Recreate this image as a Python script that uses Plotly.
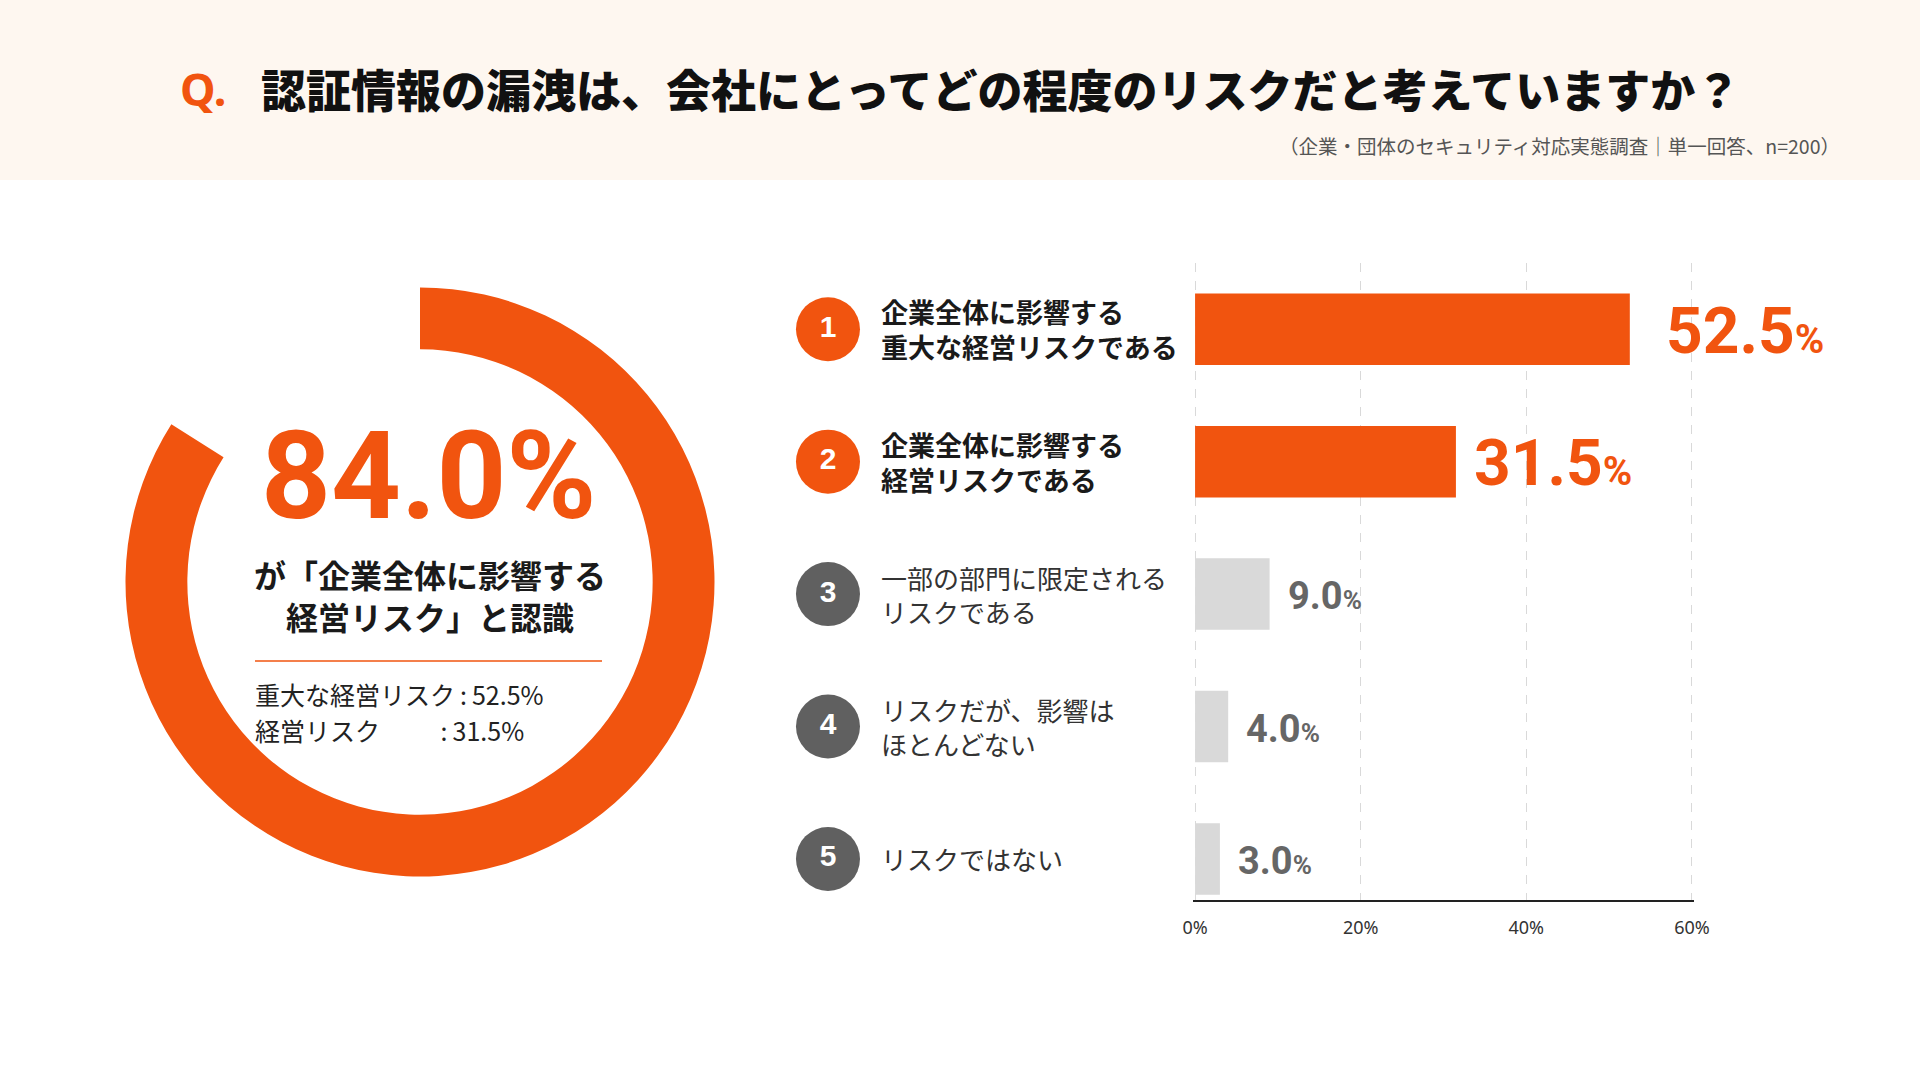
"""
Survey chart: perceived risk of credential leaks (donut summary + ranked bars).
"""
import plotly.graph_objects as go

W, H = 1920, 1080

TITLE = "認証情報の漏洩は、会社にとってどの程度のリスクだと考えていますか？"
SUBTITLE = "（企業・団体のセキュリティ対応実態調査｜単一回答、n=200）"

LABELS = [
    "企業全体に影響する<br>重大な経営リスクである",
    "企業全体に影響する<br>経営リスクである",
    "一部の部門に限定される<br>リスクである",
    "リスクだが、影響は<br>ほとんどない",
    "リスクではない",
]
RANKS = ["1", "2", "3", "4", "5"]
VALUES = [52.5, 31.5, 9.0, 4.0, 3.0]
SUMMARY_NAMES = ["重大な経営リスク", "経営リスク　　 "]
X_TICKS = [0, 20, 40, 60]
X_TICK_LABELS = ["0%", "20%", "40%", "60%"]
N_TOP = 2  # the top answers that make up the headline number

ORANGE = "#F1540F"
GREY_BAR = "#D9D9D9"
GREY_DARK = "#606060"
PEACH = "#FEF7F0"
JP = "Noto Sans CJK JP"
NUM = "Roboto, sans-serif"

# strip the default page margin so the figure sits flush in the window
PAGE_FIX = (
    "document.documentElement.style.margin='0';"
    "document.body.style.margin='0';"
    "document.body.style.padding='0';"
    "document.body.style.overflow='hidden';"
)


def px(x):
    return x / W


def py(y):
    return 1 - y / H


def build_figure():
    top_share = sum(VALUES[:N_TOP])
    highlight = [i < N_TOP for i in range(len(VALUES))]

    fig = go.Figure()

    # donut on the left
    fig.add_trace(go.Pie(
        values=[top_share, 100 - top_share],
        hole=0.79,
        sort=False,
        direction="clockwise",
        rotation=0,
        marker=dict(colors=[ORANGE, "rgba(0,0,0,0)"], line=dict(width=0)),
        textinfo="none",
        hoverinfo="skip",
        automargin=False,
        domain=dict(x=[px(125.5), px(714.5)], y=[py(876.5), py(287.5)]),
        showlegend=False,
    ))

    # ranked bars
    fig.add_trace(go.Bar(
        x=VALUES,
        y=LABELS,
        orientation="h",
        width=0.54,
        marker=dict(color=[ORANGE if h else GREY_BAR for h in highlight], line=dict(width=0)),
        hoverinfo="skip",
        showlegend=False,
    ))

    # numbered circles
    fig.add_trace(go.Scatter(
        x=[0.142] * len(RANKS),
        y=LABELS,
        xaxis="x2",
        yaxis="y",
        mode="markers+text",
        text=RANKS,
        textposition="middle center",
        textfont=dict(family="Liberation Sans, Arial, sans-serif", size=30, color="white", weight="bold"),
        marker=dict(size=64, color=[ORANGE if h else GREY_DARK for h in highlight], line=dict(width=0)),
        hoverinfo="skip",
        showlegend=False,
    ))

    annotations = []
    for i, (label, v, h) in enumerate(zip(LABELS, VALUES, highlight)):
        annotations.append(dict(
            x=px(879), xref="paper", y=label, yref="y",
            text=label, showarrow=False, xanchor="left", align="left",
            font=dict(family=JP, size=27 if h else 26, color="#1a1a1a" if h else "#333333",
                      weight="bold" if h else "normal"),
        ))
        big, small = (64, 40) if h else (38, 26)
        annotations.append(dict(
            x=v, xref="x", y=label, yref="y",
            text=f"{v:.1f}<span style='font-size:{small}px'>%</span>",
            showarrow=False, xanchor="left", xshift=34 if i == 0 else 16, yshift=-2,
            font=dict(family=NUM, size=big, color=ORANGE if h else "#666666", weight="bold"),
        ))

    # header
    annotations.append(dict(
        x=px(178), y=py(89), xref="paper", yref="paper", text="Q.",
        showarrow=False, xanchor="left", yanchor="middle",
        font=dict(family="Noto Sans, " + JP, size=45, color=ORANGE, weight="bold"),
    ))
    annotations.append(dict(
        x=px(259), y=py(89), xref="paper", yref="paper", text=TITLE,
        showarrow=False, xanchor="left", yanchor="middle",
        font=dict(family=JP, size=45, color="#111111", weight=900),
    ))
    annotations.append(dict(
        x=px(1842), y=py(145), xref="paper", yref="paper", text=SUBTITLE,
        showarrow=False, xanchor="right", yanchor="middle",
        font=dict(family=JP, size=19.5, color="#555555"),
    ))

    # donut centre texts
    annotations.append(dict(
        x=px(429), y=py(476), xref="paper", yref="paper", text=f"{top_share:.1f}%",
        showarrow=False, xanchor="center", yanchor="middle",
        font=dict(family=NUM, size=122, color=ORANGE, weight="bold"),
    ))
    annotations.append(dict(
        x=px(430), y=py(595), xref="paper", yref="paper",
        text="が「企業全体に影響する<br>経営リスク」と認識",
        showarrow=False, xanchor="center", yanchor="middle", align="center",
        font=dict(family=JP, size=32, color="#1a1a1a", weight="bold"),
    ))
    for name, v, y in zip(SUMMARY_NAMES, VALUES[:N_TOP], [694, 730]):
        annotations.append(dict(
            x=px(253), y=py(y), xref="paper", yref="paper",
            text=f"{name}\u2009:\u2009{v:.1f}%",
            showarrow=False, xanchor="left", yanchor="middle",
            font=dict(family=JP, size=25, color="#222222"),
        ))

    shapes = [
        dict(type="rect", xref="paper", yref="paper", x0=0, x1=1, y0=py(180), y1=1,
             fillcolor=PEACH, line=dict(width=0), layer="below"),
        dict(type="line", xref="paper", yref="paper", x0=px(255), x1=px(602),
             y0=py(661), y1=py(661), line=dict(color=ORANGE, width=1.5)),
    ]

    fig.update_layout(
        width=W, height=H,
        margin=dict(l=0, r=0, t=0, b=0, pad=0, autoexpand=False),
        paper_bgcolor="white",
        plot_bgcolor="rgba(0,0,0,0)",
        showlegend=False,
        annotations=annotations,
        shapes=shapes,
        xaxis=dict(
            domain=[px(1193), px(1694)],
            range=[-0.25, 60.25],
            tickvals=X_TICKS,
            ticktext=X_TICK_LABELS,
            tickfont=dict(family="Noto Sans", size=18, color="#333333"),
            ticks="outside", ticklen=11, tickcolor="rgba(0,0,0,0)",
            showgrid=True, gridcolor="#d9d9d9", griddash="dash", gridwidth=1,
            zeroline=False,
            showline=True, linecolor="#222222", linewidth=1.5,
            automargin=False,
            fixedrange=True,
        ),
        xaxis2=dict(
            domain=[0.40, 0.62], range=[0, 1], anchor="y",
            visible=False, automargin=False, fixedrange=True,
        ),
        yaxis=dict(
            domain=[py(900), py(263)],
            range=[4.31, -0.5],
            showticklabels=False, showgrid=False, zeroline=False, showline=False,
            ticks="", automargin=False, fixedrange=True,
        ),
    )
    return fig


fig = build_figure()
fig.write_html("out.html", config={"displayModeBar": False}, post_script=PAGE_FIX)
